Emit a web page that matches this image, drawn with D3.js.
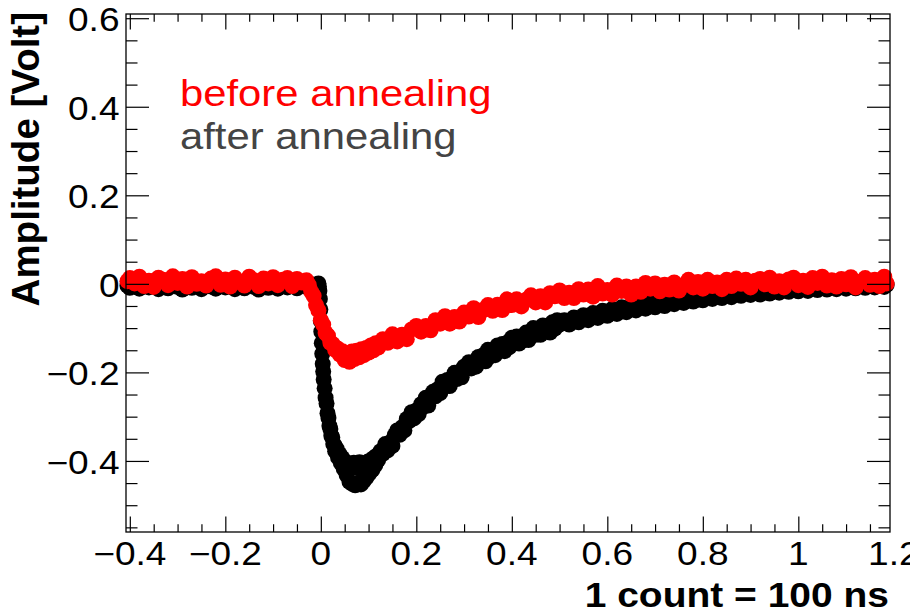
<!DOCTYPE html>
<html>
<head>
<meta charset="utf-8">
<script src="https://cdn.jsdelivr.net/npm/d3@7"></script>
<style>
  html, body { margin: 0; padding: 0; background: #fff; }
  svg { display: block; }
  text { font-family: "Liberation Sans", Arial, Helvetica, sans-serif; }
</style>
</head>
<body>
<svg id="chart" width="910" height="613"></svg>
<script>
// Sampled pulse amplitude [V] versus time (1 count = 100 ns), two overlaid waveforms.

// Tick values and labels
const xTickValues = [-0.4, -0.2, 0, 0.2, 0.4, 0.6, 0.8, 1, 1.2];
const xTickLabels = ["\u22120.4", "\u22120.2", "0", "0.2", "0.4", "0.6", "0.8", "1", "1.2"];
const yTickValues = [-0.4, -0.2, 0, 0.2, 0.4, 0.6];
const yTickLabels = ["\u22120.4", "\u22120.2", "0", "0.2", "0.4", "0.6"];

// Legend entries
const seriesNames = ["before annealing", "after annealing"];

// Waveform after annealing: [time, amplitude]
const afterAnnealing = [
  [-0.405,-0.004],[-0.40,-0.009],[-0.39,0.004],[-0.38,-0.011],[-0.37,0.002],[-0.36,-0.008],[-0.35,0.006],
  [-0.34,-0.012],[-0.33,-0.001],[-0.32,-0.010],[-0.31,0.005],[-0.30,-0.007],[-0.29,-0.013],[-0.28,0.003],
  [-0.27,-0.009],[-0.26,0.001],[-0.25,-0.012],[-0.24,0.004],[-0.23,-0.006],[-0.22,-0.011],[-0.21,0.002],
  [-0.20,-0.008],[-0.19,0.005],[-0.18,-0.012],[-0.17,-0.002],[-0.16,-0.010],[-0.15,0.003],[-0.14,-0.007],
  [-0.13,-0.013],[-0.12,0.001],[-0.11,-0.009],[-0.10,0.004],[-0.09,-0.011],[-0.08,-0.003],[-0.07,-0.008],
  [-0.06,0.002],[-0.05,-0.010],[-0.04,0.003],[-0.03,-0.007],[-0.02,-0.001],[-0.01,-0.009],[-0.005,0.001],
  [-0.004,-0.006],[-0.003,-0.016],[-0.002,-0.034],[-0.001,-0.058],[0.000,-0.084],[0.001,-0.108],
  [0.002,-0.134],[0.003,-0.158],[0.004,-0.181],[0.005,-0.198],[0.006,-0.216],[0.008,-0.236],
  [0.010,-0.257],[0.012,-0.270],[0.014,-0.292],[0.016,-0.303],[0.018,-0.321],[0.020,-0.328],
  [0.022,-0.343],[0.024,-0.347],[0.026,-0.362],[0.028,-0.363],[0.030,-0.378],[0.033,-0.372],
  [0.036,-0.392],[0.039,-0.384],[0.042,-0.405],[0.045,-0.393],[0.048,-0.418],[0.051,-0.402],
  [0.054,-0.432],[0.057,-0.405],[0.060,-0.447],[0.063,-0.410],[0.066,-0.452],[0.069,-0.404],
  [0.072,-0.455],[0.075,-0.415],[0.078,-0.449],[0.081,-0.403],[0.084,-0.453],[0.087,-0.410],
  [0.090,-0.445],[0.093,-0.405],[0.096,-0.437],[0.099,-0.401],[0.102,-0.428],[0.105,-0.398],
  [0.108,-0.420],[0.111,-0.393],[0.114,-0.410],[0.117,-0.388],[0.120,-0.398],
  [0.125,-0.378],[0.130,-0.384],[0.135,-0.362],[0.140,-0.376],[0.145,-0.358],[0.150,-0.366],
  [0.155,-0.341],[0.160,-0.331],[0.165,-0.341],[0.170,-0.324],[0.175,-0.331],[0.180,-0.305],
  [0.185,-0.310],[0.190,-0.290],[0.195,-0.304],[0.200,-0.286],[0.205,-0.294],[0.210,-0.272],
  [0.215,-0.278],[0.220,-0.257],[0.225,-0.275],[0.230,-0.257],[0.235,-0.244],[0.240,-0.254],
  [0.245,-0.238],[0.250,-0.247],[0.255,-0.221],[0.260,-0.232],[0.265,-0.217],[0.270,-0.231],
  [0.275,-0.213],[0.280,-0.201],[0.285,-0.215],[0.290,-0.199],[0.295,-0.211],[0.300,-0.187],
  [0.305,-0.192],[0.310,-0.177],[0.315,-0.191],[0.320,-0.178],[0.325,-0.187],[0.330,-0.165],
  [0.335,-0.174],[0.340,-0.161],[0.345,-0.175],[0.350,-0.149],[0.355,-0.164],[0.360,-0.153],
  [0.365,-0.161],[0.370,-0.139],[0.375,-0.149],[0.380,-0.136],[0.385,-0.152],[0.390,-0.133],
  [0.395,-0.143],[0.400,-0.122],[0.405,-0.132],[0.410,-0.119],[0.415,-0.135],[0.420,-0.119],
  [0.425,-0.127],[0.430,-0.110],[0.435,-0.127],[0.440,-0.113],[0.445,-0.100],[0.450,-0.115],
  [0.455,-0.102],[0.460,-0.115],[0.465,-0.094],[0.470,-0.106],[0.475,-0.097],[0.480,-0.110],
  [0.485,-0.087],[0.490,-0.101],[0.495,-0.082],[0.500,-0.092],
  [0.51,-0.082],[0.52,-0.092],[0.53,-0.076],[0.54,-0.087],
  [0.55,-0.071],[0.56,-0.082],[0.57,-0.066],[0.58,-0.077],[0.59,-0.061],[0.60,-0.072],[0.61,-0.057],
  [0.62,-0.068],[0.63,-0.053],[0.64,-0.064],[0.65,-0.049],[0.66,-0.060],[0.67,-0.045],[0.68,-0.056],
  [0.69,-0.042],[0.70,-0.053],[0.71,-0.038],[0.72,-0.050],[0.73,-0.035],[0.74,-0.046],[0.75,-0.032],
  [0.76,-0.043],[0.77,-0.029],[0.78,-0.040],[0.79,-0.027],[0.80,-0.037],[0.81,-0.024],[0.82,-0.034],
  [0.83,-0.022],[0.84,-0.032],[0.85,-0.020],[0.86,-0.030],[0.87,-0.018],[0.88,-0.027],[0.89,-0.016],
  [0.90,-0.025],[0.91,-0.014],[0.92,-0.024],[0.93,-0.012],[0.94,-0.022],[0.95,-0.011],[0.96,-0.020],
  [0.97,-0.009],[0.98,-0.018],[0.99,-0.008],[1.00,-0.017],[1.01,-0.007],[1.02,-0.016],[1.03,-0.005],
  [1.04,-0.014],[1.05,-0.004],[1.06,-0.013],[1.07,-0.003],[1.08,-0.012],[1.09,-0.002],[1.10,-0.011],
  [1.11,-0.002],[1.12,-0.010],[1.13,-0.001],[1.14,-0.009],[1.15,0.000],[1.16,-0.008],[1.17,0.000],
  [1.18,-0.007],[1.185,-0.002]
];

// Waveform before annealing: [time, amplitude]
const beforeAnnealing = [
  [-0.405,0.006],[-0.40,0.013],[-0.39,0.001],[-0.38,0.016],[-0.37,-0.005],[-0.36,0.007],[-0.35,-0.007],
  [-0.34,0.014],[-0.33,0.009],[-0.32,-0.003],[-0.31,0.017],[-0.30,0.002],[-0.29,0.011],[-0.28,-0.006],
  [-0.27,0.015],[-0.26,0.000],[-0.25,0.006],[-0.24,-0.004],[-0.23,0.012],[-0.22,0.017],[-0.21,-0.002],
  [-0.20,0.010],[-0.19,-0.006],[-0.18,0.014],[-0.17,0.004],[-0.16,-0.004],[-0.15,0.016],[-0.14,0.008],
  [-0.13,-0.005],[-0.12,0.012],[-0.11,0.001],[-0.10,0.015],[-0.09,-0.003],[-0.08,0.009],[-0.07,0.013],
  [-0.06,-0.005],[-0.05,0.011],[-0.04,0.003],[-0.03,0.008],
  [-0.025,-0.003],[-0.020,-0.018],[-0.015,-0.027],[-0.010,-0.048],[-0.005,-0.060],[0.000,-0.082],
  [0.005,-0.092],[0.010,-0.111],[0.015,-0.117],[0.020,-0.133],[0.025,-0.136],[0.030,-0.149],
  [0.035,-0.146],[0.040,-0.160],[0.045,-0.152],[0.050,-0.172],[0.055,-0.158],[0.060,-0.176],
  [0.065,-0.153],[0.070,-0.170],[0.075,-0.151],[0.080,-0.166],[0.085,-0.148],[0.090,-0.161],
  [0.095,-0.145],[0.100,-0.155],[0.105,-0.139],[0.110,-0.150],[0.115,-0.134],[0.120,-0.144],
  [0.13,-0.125],[0.14,-0.133],[0.15,-0.114],[0.16,-0.130],[0.17,-0.115],[0.18,-0.125],[0.19,-0.103],
  [0.20,-0.095],[0.21,-0.108],[0.22,-0.095],[0.23,-0.105],[0.24,-0.082],[0.25,-0.090],[0.26,-0.073],
  [0.27,-0.090],[0.28,-0.075],[0.29,-0.085],[0.30,-0.065],[0.31,-0.074],[0.32,-0.055],[0.33,-0.075],
  [0.34,-0.059],[0.35,-0.048],[0.36,-0.061],[0.37,-0.047],[0.38,-0.059],[0.39,-0.035],[0.40,-0.048],
  [0.41,-0.035],[0.42,-0.051],[0.43,-0.036],[0.44,-0.026],[0.45,-0.042],[0.46,-0.028],[0.47,-0.042],
  [0.48,-0.021],[0.49,-0.028],[0.50,-0.015],[0.51,-0.032],[0.52,-0.020],[0.53,-0.032],[0.54,-0.012],
  [0.55,-0.024],[0.56,-0.013],[0.57,-0.029],[0.58,-0.005],[0.59,-0.022],[0.60,-0.014],[0.61,-0.024],
  [0.62,-0.004],[0.63,-0.016],[0.64,-0.006],[0.65,-0.024],[0.66,-0.006],[0.67,-0.018],[0.68,0.002],
  [0.69,-0.011],[0.70,0.001],[0.71,-0.017],[0.72,-0.002],[0.73,-0.013],[0.74,0.003],[0.75,-0.015],
  [0.76,-0.003],[0.77,0.009],[0.78,-0.008],[0.79,0.004],[0.80,-0.011],[0.81,0.009],[0.82,-0.005],
  [0.83,0.003],[0.84,-0.012],[0.85,0.009],[0.86,-0.005],[0.87,0.012],[0.88,0.000],[0.89,0.009],
  [0.90,-0.008],[0.91,0.007],[0.92,0.011],[0.93,-0.001],[0.94,0.014],[0.95,-0.006],[0.96,0.006],
  [0.97,-0.008],[0.98,0.010],[0.99,0.014],[1.00,-0.003],[1.01,0.007],[1.02,-0.007],[1.03,0.013],
  [1.04,0.002],[1.05,0.016],[1.06,-0.004],[1.07,0.008],[1.08,-0.006],[1.09,0.011],[1.10,-0.001],
  [1.11,0.015],[1.12,-0.008],[1.13,0.005],[1.14,0.013],[1.15,-0.002],[1.16,0.009],[1.17,-0.005],
  [1.18,0.016],[1.185,0.001]
];

// ---- layout ----
const frame = { left: 126, right: 890, top: 14, bottom: 532 };
const SX = 1.14;              // horizontal widening of axis lettering

const svg = d3.select("#chart");

const x = d3.scaleLinear().domain([-0.408, 1.192]).range([frame.left, frame.right]);
const y = d3.scaleLinear().domain([-0.5605, 0.6095]).range([frame.bottom, frame.top]);

// ---- markers (drawn first so the frame sits on top) ----
const markerR = 8;
function drawSeries(data, color) {
  svg.append("g")
    .selectAll("circle")
    .data(data)
    .join("circle")
    .attr("cx", d => x(d[0]))
    .attr("cy", d => y(d[1]))
    .attr("r", markerR)
    .attr("fill", color);
}
drawSeries(afterAnnealing, "#000000");
drawSeries(beforeAnnealing, "#ff0000");

// ---- frame ----
svg.append("rect")
  .attr("x", frame.left).attr("y", frame.top)
  .attr("width", frame.right - frame.left).attr("height", frame.bottom - frame.top)
  .attr("fill", "none").attr("stroke", "#000").attr("stroke-width", 1.3);

// ---- ticks on all four sides ----
const inDomain = (s, v) => v >= Math.min(...s.domain()) - 1e-9 && v <= Math.max(...s.domain()) + 1e-9;
const xMajor = xTickValues.filter(v => inDomain(x, v));
const xMinor = d3.range(-8, 24).map(i => i * 0.05)
  .filter(v => inDomain(x, v) && !xMajor.some(m => Math.abs(m - v) < 1e-9));
const yMajor = yTickValues.filter(v => inDomain(y, v));
const yMinor = d3.range(-11, 13).map(i => i * 0.05)
  .filter(v => inDomain(y, v) && !yMajor.some(m => Math.abs(m - v) < 1e-9));

const xTickLen = 15.5, yTickLen = 23;

function tickAxis(axisFn, scale, values, len, tx, ty) {
  const g = svg.append("g")
    .attr("transform", `translate(${tx},${ty})`)
    .call(axisFn(scale).tickValues(values).tickSize(-len).tickFormat(""));
  g.select(".domain").remove();
  g.selectAll(".tick text").remove();
  g.selectAll(".tick line").attr("stroke", "#000").attr("stroke-width", 1.2);
}
tickAxis(d3.axisBottom, x, xMajor, xTickLen, 0, frame.bottom);
tickAxis(d3.axisBottom, x, xMinor, xTickLen / 2, 0, frame.bottom);
tickAxis(d3.axisTop, x, xMajor, xTickLen, 0, frame.top);
tickAxis(d3.axisTop, x, xMinor, xTickLen / 2, 0, frame.top);
tickAxis(d3.axisLeft, y, yMajor, yTickLen, frame.left, 0);
tickAxis(d3.axisLeft, y, yMinor, yTickLen / 2, frame.left, 0);
tickAxis(d3.axisRight, y, yMajor, yTickLen, frame.right, 0);
tickAxis(d3.axisRight, y, yMinor, yTickLen / 2, frame.right, 0);

// ---- tick labels ----
const labelSize = 32.5;
svg.append("g").selectAll("text")
  .data(xTickValues.map((v, i) => ({ v, label: xTickLabels[i] })))
  .join("text")
  .attr("transform", d => `translate(${x(d.v)},565) scale(${SX},1)`)
  .attr("text-anchor", "middle")
  .attr("font-size", labelSize)
  .attr("fill", "#000")
  .text(d => d.label);

svg.append("g").selectAll("text")
  .data(yTickValues.map((v, i) => ({ v, label: yTickLabels[i] })))
  .join("text")
  .attr("transform", d => `translate(119.5,${y(d.v) + 13}) scale(${SX},1)`)
  .attr("text-anchor", "end")
  .attr("font-size", labelSize)
  .attr("fill", "#000")
  .text(d => d.label);

// ---- axis titles ----
svg.append("text")
  .attr("transform", `translate(889,607) scale(1.13,1)`)
  .attr("text-anchor", "end")
  .attr("font-size", 34.5)
  .attr("font-weight", "bold")
  .text("1 count = 100 ns");

svg.append("text")
  .attr("transform", `translate(39,12) rotate(-90)`)
  .attr("text-anchor", "end")
  .attr("font-size", 38.5)
  .attr("font-weight", "bold")
  .text("Amplitude [Volt]");

// ---- legend ----
const legendColors = ["#ff0000", "#444444"];
svg.append("g").selectAll("text")
  .data(seriesNames)
  .join("text")
  .attr("transform", (d, i) => `translate(180,${106 + i * 43}) scale(1.13,1)`)
  .attr("font-size", 37)
  .attr("fill", (d, i) => legendColors[i])
  .text(d => d);
</script>
</body>
</html>
